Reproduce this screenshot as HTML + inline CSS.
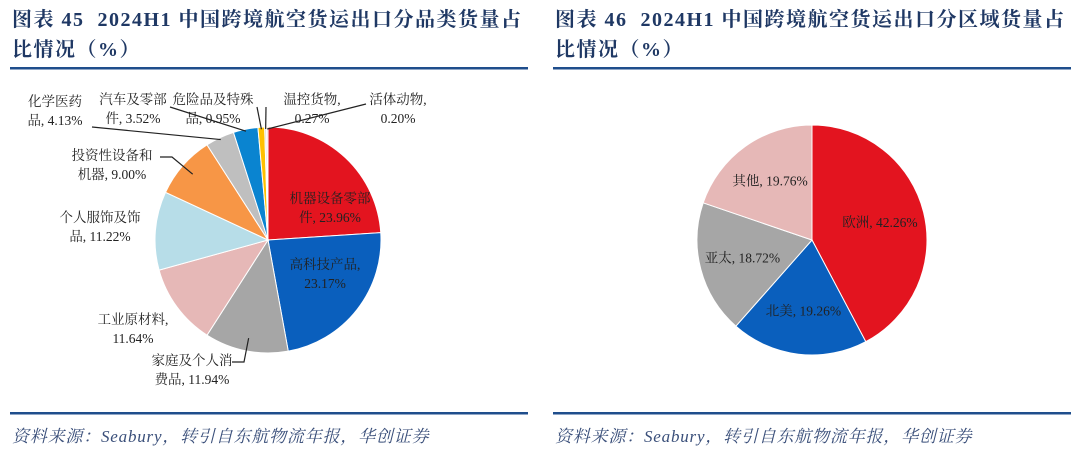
<!DOCTYPE html>
<html><head><meta charset="utf-8"><style>
body{margin:0;background:#fff;width:1080px;height:460px;overflow:hidden}
svg text{font-family:"Liberation Serif","Noto Serif CJK SC",serif}
</style></head><body>
<svg id="svg" width="1080" height="460">
<g fill="#1f3864" font-weight="bold" font-size="20" letter-spacing="1.5">
<text x="12" y="26">图表 45 &#160;2024H1 中国跨境航空货运出口分品类货量占</text>
<text x="12" y="56">比情况（%）</text></g>
<rect x="10" y="67" width="518" height="2.5" fill="#1f4e8c"/>
<g fill="#1f3864" font-weight="bold" font-size="20" letter-spacing="1.5">
<text x="555" y="26">图表 46 &#160;2024H1 中国跨境航空货运出口分区域货量占</text>
<text x="555" y="56">比情况（%）</text></g>
<rect x="553" y="67" width="518" height="2.5" fill="#1f4e8c"/>
<rect x="10" y="412" width="518" height="2.5" fill="#1f4e8c"/>
<rect x="553" y="412" width="518" height="2.5" fill="#1f4e8c"/>
<text x="12" y="442" font-size="17" font-style="italic" fill="#3a4f7a" letter-spacing="0.8">资料来源：Seabury，转引自东航物流年报，华创证券</text>
<text x="555" y="442" font-size="17" font-style="italic" fill="#3a4f7a" letter-spacing="0.8">资料来源：Seabury，转引自东航物流年报，华创证券</text>
<g id="pie1"></g>
<g id="pie2"></g>
</svg>
<script>
const catNames=["机器设备零部件","高科技产品","家庭及个人消费品","工业原材料","个人服饰及饰品","投资性设备和机器","化学医药品","汽车及零部件","危险品及特殊品","温控货物","活体动物"];
const catValues=[23.96,23.17,11.94,11.64,11.22,9.00,4.13,3.52,0.95,0.27,0.20];
const catColors=["#e3141f","#0a5fbd","#a6a6a6","#e6b8b7","#b7dde8","#f79646","#bfbfbf","#0a84d0","#ffc000","#d9d9d9","#f4b8b8"];
const catLabels=[["机器设备零部","件, 23.96%"],["高科技产品,","23.17%"],["家庭及个人消","费品, 11.94%"],["工业原材料,","11.64%"],["个人服饰及饰","品, 11.22%"],["投资性设备和","机器, 9.00%"],["化学医药","品, 4.13%"],["汽车及零部","件, 3.52%"],["危险品及特殊","品, 0.95%"],["温控货物,","0.27%"],["活体动物,","0.20%"]];
const regNames=["欧洲","北美","亚太","其他"];
const regValues=[42.26,19.26,18.72,19.76];
const regColors=["#e3141f","#0a5fbd","#a6a6a6","#e6b8b7"];
const NS="http://www.w3.org/2000/svg";
function mk(t,a,p){const e=document.createElementNS(NS,t);for(const k in a)e.setAttribute(k,a[k]);p.appendChild(e);return e;}
function pt(cx,cy,r,a){return [cx+r*Math.sin(a),cy-r*Math.cos(a)];}
function drawPie(g,vals,cols,cx,cy,r){
 const tot=vals.reduce((a,b)=>a+b,0);let a0=0;const mids=[];
 vals.forEach((v,i)=>{const a1=a0+v/tot*2*Math.PI;const p0=pt(cx,cy,r,a0),p1=pt(cx,cy,r,a1);
  const d=`M${cx},${cy}L${p0[0]},${p0[1]}A${r},${r} 0 ${a1-a0>Math.PI?1:0} 1 ${p1[0]},${p1[1]}Z`;
  const s=mk("path",{d:d,fill:cols[i],stroke:"#fff","stroke-width":1},g);
  
  
  mids.push((a0+a1)/2);a0=a1;});
 return mids;}
const g1=document.getElementById("pie1");
const m1=drawPie(g1,catValues,catColors,268,240,113);
// label [x center, first-line y]; leader start [x,y,horizontal run]
const lp=[[330,203],[325,269],[192,365],[133,324],[100,222],[112,160],[55,106],[133,104],[213,104],[312,104],[398,104]];
const ls=[null,null,[232,362,12],null,null,[160,157,12],[92,127,0],[170,107,0],[257,107,0],[266,107,0],[366,104,0]];
catLabels.forEach((L,i)=>{const p=lp[i];
 const t=mk("text",{x:p[0],y:p[1],"font-size":13.5,"text-anchor":"middle",fill:"#222"},g1);
 
 
 L.forEach((s,k)=>{const ts=mk("tspan",{x:p[0],dy:k?19:0},t);ts.textContent=s;});
 const q=ls[i];
 if(q){const e=pt(268,240,i>=6?111:100,m1[i]);
  const ln=mk("polyline",{points:`${q[0]},${q[1]} ${q[0]+q[2]},${q[1]} ${e[0]},${e[1]}`,fill:"none",stroke:"#222","stroke-width":1.2},g1);
  
  }
});
const g2=document.getElementById("pie2");
const m2=drawPie(g2,regValues,regColors,812,240,115);
m2.forEach((a,i)=>{const p=pt(812,240,i==0?70:72,a);
 const t=mk("text",{x:p[0],y:p[1]+4,"font-size":13.5,"text-anchor":"middle",fill:"#222"},g2);
 
 
 t.textContent=regNames[i]+", "+regValues[i].toFixed(2)+"%";});
</script>
</body></html>
